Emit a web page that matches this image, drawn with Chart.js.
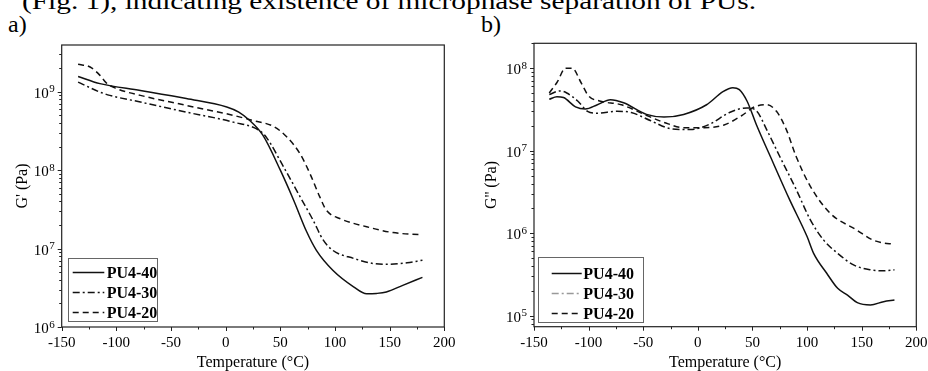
<!DOCTYPE html>
<html>
<head>
<meta charset="utf-8">
<script src="https://cdn.jsdelivr.net/npm/chart.js@4.4.0/dist/chart.umd.min.js"></script>
<style>
  body { margin: 0; width: 928px; height: 371px; overflow: hidden; background: #fff; position: relative; font-family: "Liberation Serif", serif; }
  canvas { position: absolute; top: 0; }
  .txt { position: absolute; font-size: 24px; line-height: 1.107; white-space: nowrap; color: #000; }
</style>
</head>
<body>
<div class="txt" id="head" style="left:22px; top:-12px; transform-origin:0 0;">(Fig. 1), indicating existence of microphase separation of PUs.</div>
<div class="txt" style="left:8px; top:11px;">a)</div>
<div class="txt" style="left:481px; top:11px;">b)</div>
<canvas id="chartA" width="464" height="371" style="left:0"></canvas>
<canvas id="chartB" width="464" height="371" style="left:464px"></canvas>
<script>
// a) storage modulus G' (Pa) vs temperature
const tempA40 = [-135, -115, -78, -36, 1, 12, 22, 34, 50, 62, 74, 83, 98, 117, 129, 138, 147, 162, 180];
const gA40 = [1.57e9, 1.27e9, 1.04e9, 8.2e8, 6.4e8, 5.5e8, 4.3e8, 2.8e8, 1.0e8, 4.2e7, 1.65e7, 9.5e6, 5.3e6, 3.26e6, 2.65e6, 2.68e6, 2.8e6, 3.4e6, 4.3e6];
const tempA30 = [-135, -115, -106, -78, -36, 7, 31, 37, 53, 68, 80, 89, 98, 117, 135, 147, 166, 180];
const gA30 = [1.33e9, 9.9e8, 9.0e8, 7.4e8, 5.5e8, 4.1e8, 3.2e8, 2.65e8, 1.1e8, 4.6e7, 2.3e7, 1.3e7, 9.5e6, 7.5e6, 6.45e6, 6.3e6, 6.6e6, 7.1e6];
const tempA20 = [-135, -124, -115, -109, -100, -78, -36, 7, 25, 44, 56, 68, 77, 86, 92, 105, 129, 153, 180];
const gA20 = [2.24e9, 2.07e9, 1.62e9, 1.29e9, 1.1e9, 9.0e8, 6.7e8, 5.0e8, 4.3e8, 3.6e8, 2.65e8, 1.62e8, 9.1e7, 4.6e7, 3.1e7, 2.4e7, 1.9e7, 1.6e7, 1.5e7];

// b) loss modulus G'' (Pa) vs temperature
const tempB40 = [-136, -129, -123, -112, -103, -92, -80, -68, -47, -31, -13, 8, 23, 32, 38, 45, 54, 69, 84, 100, 106, 118, 128, 137, 146, 158, 170, 180];
const gB40 = [4.2e7, 4.5e7, 4.4e7, 3.4e7, 3.2e7, 3.6e7, 4.15e7, 3.8e7, 2.75e7, 2.55e7, 2.75e7, 3.6e7, 5.2e7, 5.8e7, 5.5e7, 4.0e7, 2.0e7, 7.1e6, 2.55e6, 9.1e5, 5.7e5, 3.27e5, 2.15e5, 1.78e5, 1.44e5, 1.35e5, 1.48e5, 1.55e5];
const tempB30 = [-136, -126, -120, -110, -101, -92, -74, -61, -43, -25, -7, 11, 29, 45, 54, 63, 75, 90, 103, 115, 128, 143, 158, 170, 180];
const gB30 = [4.8e7, 5.3e7, 5.0e7, 4.0e7, 3.0e7, 2.85e7, 3.0e7, 2.9e7, 2.3e7, 1.85e7, 1.8e7, 2.1e7, 2.9e7, 3.3e7, 3.0e7, 1.8e7, 8.5e6, 3.4e6, 1.45e6, 8.3e5, 5.7e5, 4.1e5, 3.6e5, 3.5e5, 3.6e5];
const tempB20 = [-136, -129, -121, -115, -107, -100, -90, -70, -49, -31, -13, 6, 24, 40, 52, 63, 72, 81, 90, 103, 121, 145, 160, 170, 178];
const gB20 = [5.0e7, 6.7e7, 1.0e8, 1.0e8, 6.7e7, 4.6e7, 4.0e7, 3.6e7, 2.75e7, 2.2e7, 1.9e7, 1.9e7, 2.05e7, 2.65e7, 3.4e7, 3.6e7, 3.0e7, 1.8e7, 8.5e6, 3.7e6, 1.75e6, 1.1e6, 8.3e5, 7.6e5, 7.4e5];

const seriesNames = ['PU4-40', 'PU4-30', 'PU4-20'];
const yTicksA = [1e6, 1e7, 1e8, 1e9];
const yTicksB = [1e5, 1e6, 1e7, 1e8];

const dashes = [[], [7, 3, 2, 3], [6, 4]];
const FONT = 'Liberation Serif';

// squeeze the cut-off caption line to the width it has in the page
const head = document.getElementById('head');
head.style.transform = 'scaleX(' + (734 / head.getBoundingClientRect().width) + ')';

// frame, outward ticks (major + minor), 10^n labels and a boxed legend inside the plot
const frameTicks = {
    id: 'frameTicks',
    afterDraw(chart, args, opts) {
        const {ctx, chartArea: a, scales: {x, y}} = chart;
        ctx.save();
        ctx.strokeStyle = '#222';
        ctx.lineWidth = 1.2;
        ctx.strokeRect(a.left, a.top, a.right - a.left, a.bottom - a.top);

        ctx.lineWidth = 1;
        ctx.beginPath();
        for (let v = x.min; v <= x.max; v += 25) {
            const px = Math.round(x.getPixelForValue(v)) + 0.5;
            const len = v % 50 === 0 ? 4 : 2.5;
            ctx.moveTo(px, a.bottom);
            ctx.lineTo(px, a.bottom + len);
        }
        const e0 = Math.floor(Math.log10(y.min)), e1 = Math.ceil(Math.log10(y.max));
        for (let e = e0; e <= e1; e++) {
            for (let k = 1; k <= 9; k++) {
                const v = k * Math.pow(10, e);
                if (v < y.min || v > y.max) continue;
                const py = Math.round(y.getPixelForValue(v)) + 0.5;
                ctx.moveTo(a.left, py);
                ctx.lineTo(a.left - (k === 1 ? 4 : 2.5), py);
            }
        }
        ctx.stroke();

        ctx.fillStyle = '#000';
        y.ticks.forEach(t => {
            const exp = String(Math.round(Math.log10(t.value)));
            const py = y.getPixelForValue(t.value);
            const right = a.left - 7;
            ctx.font = '11px "' + FONT + '"';
            const ew = ctx.measureText(exp).width;
            ctx.textAlign = 'left';
            ctx.textBaseline = 'alphabetic';
            ctx.fillText(exp, right - ew, py + 0.5);
            ctx.font = '15px "' + FONT + '"';
            ctx.textAlign = 'right';
            ctx.fillText('10', right - ew - 0.5, py + 6);
        });

        const lg = opts.legend;
        const bx = a.left + lg.dx, by = a.bottom - lg.dy - lg.h;
        ctx.fillStyle = '#fff';
        ctx.fillRect(bx, by, lg.w, lg.h);
        ctx.strokeStyle = '#666';
        ctx.lineWidth = 1;
        ctx.strokeRect(Math.round(bx) + 0.5, Math.round(by) + 0.5, lg.w, lg.h);
        chart.data.datasets.forEach((ds, i) => {
            const ry = Math.round(by + lg.row0 + i * lg.rowGap) + 0.5;
            ctx.setLineDash(ds.borderDash || []);
            ctx.strokeStyle = lg.colors[i];
            ctx.lineWidth = ds.borderWidth;
            ctx.beginPath();
            ctx.moveTo(bx + lg.l0, ry);
            ctx.lineTo(bx + lg.l1, ry);
            ctx.stroke();
            ctx.setLineDash([]);
            ctx.font = 'bold 16px "' + FONT + '"';
            ctx.fillStyle = '#000';
            ctx.textAlign = 'left';
            ctx.textBaseline = 'middle';
            ctx.fillText(ds.label, bx + lg.tx, ry + 1);
        });
        ctx.restore();
    }
};

function makeChart(id, temps, values, cfg) {
    const datasets = temps.map((t, i) => ({
        label: seriesNames[i],
        data: t.map((tv, j) => ({x: tv, y: values[i][j]})),
        borderColor: '#111',
        borderWidth: 1.5,
        borderDash: dashes[i],
        pointRadius: 0,
        cubicInterpolationMode: 'monotone',
        fill: false
    }));

    return new Chart(document.getElementById(id), {
        type: 'line',
        data: {datasets: datasets},
        options: {
            responsive: false,
            animation: false,
            devicePixelRatio: 1,
            layout: {padding: {left: 0, top: cfg.top, right: cfg.right, bottom: 0}},
            plugins: {
                legend: {display: false},
                tooltip: {enabled: false},
                frameTicks: {legend: cfg.legend}
            },
            scales: {
                x: {
                    type: 'linear', min: -150, max: 200,
                    ticks: {stepSize: 50, font: {family: FONT, size: 15}, color: '#000', padding: 7, maxRotation: 0, autoSkip: false},
                    grid: {display: false, drawTicks: false},
                    border: {display: false},
                    title: {display: true, text: 'Temperature (°C)', color: '#000',
                        font: {family: FONT, size: 16, lineHeight: 1}, padding: {top: 0, bottom: 0}},
                    afterFit: s => { s.height = cfg.xh; s.paddingLeft = 0; s.paddingRight = 0; }
                },
                y: {
                    type: 'logarithmic', min: cfg.ymin, max: cfg.ymax,
                    ticks: {display: false},
                    grid: {display: false, drawTicks: false},
                    border: {display: false},
                    afterBuildTicks: s => { s.ticks = cfg.yTicks.map(v => ({value: v})); },
                    title: {display: true, text: cfg.ytitle, color: '#000',
                        font: {family: FONT, size: 16}, padding: {top: cfg.ytp, bottom: 0}},
                    afterFit: s => { s.width = cfg.yw; s.paddingTop = 0; s.paddingBottom = 0; }
                }
            }
        },
        plugins: [frameTicks]
    });
}

makeChart('chartA', [tempA40, tempA30, tempA20], [gA40, gA30, gA20], {
    top: 45, right: 19.7, xh: 44, yw: 61.7, ytp: 13.4,
    ymin: 1e6, ymax: 3.95e9, yTicks: yTicksA, ytitle: "G' (Pa)",
    legend: {dx: 6.6, dy: 6.3, w: 89, h: 63, row0: 14.5, rowGap: 20, l0: 4.4, l1: 36, tx: 38.4,
        colors: ['#111', '#111', '#111']}
});

makeChart('chartB', [tempB40, tempB30, tempB20], [gB40, gB30, gB20], {
    top: 43.3, right: 11.7, xh: 44.3, yw: 70, ytp: 18.4,
    ymin: 7.36e4, ymax: 2.0e8, yTicks: yTicksB, ytitle: "G'' (Pa)",
    legend: {dx: 4.3, dy: 5, w: 105, h: 65, row0: 16, rowGap: 20, l0: 13.4, l1: 43.4, tx: 45,
        colors: ['#111', '#999', '#111']}
});
</script>
</body>
</html>
